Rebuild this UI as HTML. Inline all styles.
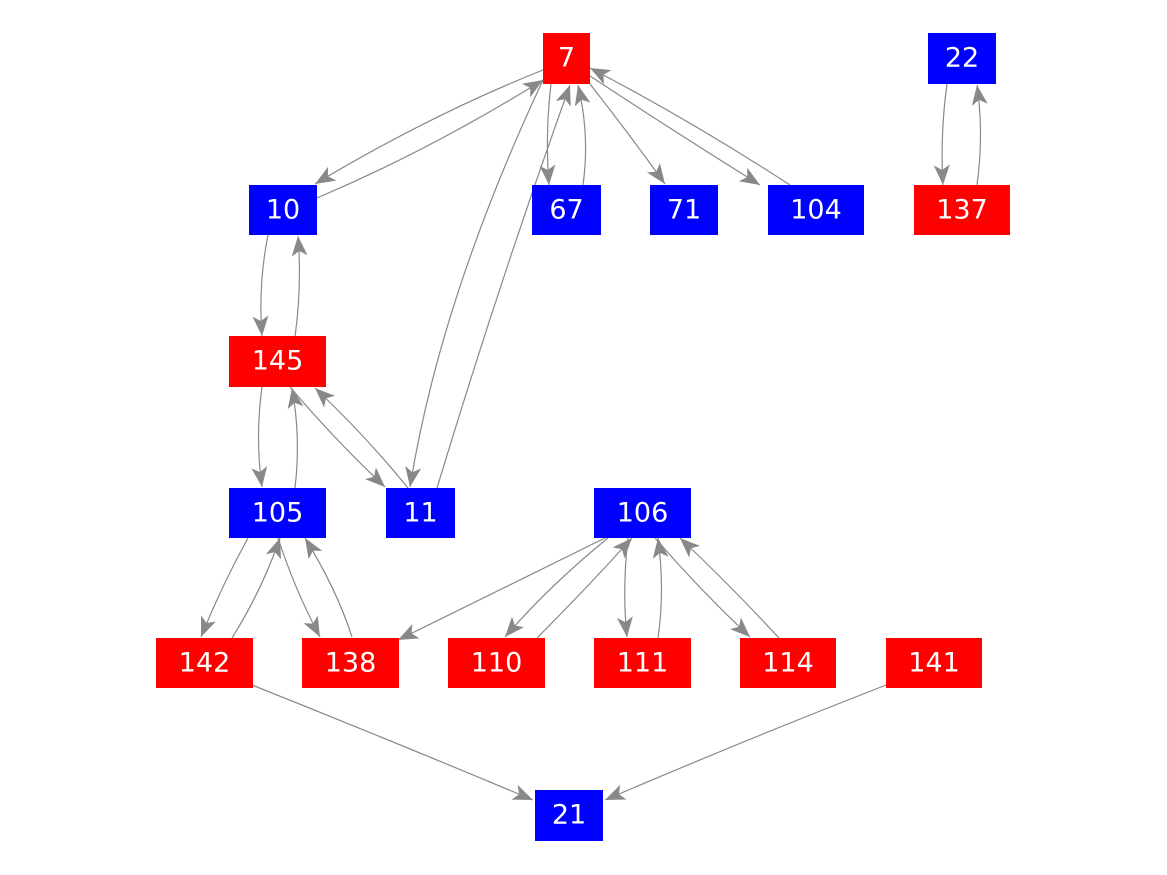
<!DOCTYPE html>
<html><head><meta charset="utf-8"><style>
html,body{margin:0;padding:0;background:#fff;}
svg{display:block;}
text{font-family:"DejaVu Sans","Liberation Sans",sans-serif;font-size:27px;fill:#fff;text-anchor:middle;dominant-baseline:central;}
path.e{fill:none;stroke:#888;stroke-width:1.2;}
</style></head><body>
<svg width="1167" height="875" viewBox="0 0 1167 875">
<defs>
<marker id="a" markerUnits="userSpaceOnUse" markerWidth="24" markerHeight="18" refX="20" refY="8" orient="auto" viewBox="0 0 24 18">
<path d="M0,0 L20,8 L0,16 L5,8 z" fill="#888"/>
</marker>
</defs>
<g marker-end="url(#a)">
<path class="e" d="M543,70 Q430,115 315,184"/>
<path class="e" d="M317,198 Q430,150 543,80"/>
<path class="e" d="M551,84 Q545,135 549,185"/>
<path class="e" d="M583,185 Q590,135 578,85"/>
<path class="e" d="M590,84 Q630,135 665,184"/>
<path class="e" d="M590,76 Q675,132 760,185"/>
<path class="e" d="M790,185 Q690,120 590,68"/>
<path class="e" d="M543,80 Q440,300 410,487"/>
<path class="e" d="M437,488 Q500,280 570,85"/>
<path class="e" d="M947,84 Q940,135 943,185"/>
<path class="e" d="M977,185 Q984,135 977,85"/>
<path class="e" d="M268,235 Q258,285 262,336"/>
<path class="e" d="M295,337 Q302,285 298,236"/>
<path class="e" d="M262,387 Q255,437 262,487"/>
<path class="e" d="M295,488 Q301,437 292,388"/>
<path class="e" d="M290,387 Q335,440 385,487"/>
<path class="e" d="M408,488 Q365,435 315,388"/>
<path class="e" d="M248,538 Q222,585 201,637"/>
<path class="e" d="M232,638 Q262,590 280,538"/>
<path class="e" d="M278,538 Q295,590 320,637"/>
<path class="e" d="M352,637 Q337,590 305,538"/>
<path class="e" d="M605,538 Q500,590 398,640"/>
<path class="e" d="M608,538 Q550,585 505,637"/>
<path class="e" d="M537,638 Q585,590 632,538"/>
<path class="e" d="M628,538 Q622,590 627,637"/>
<path class="e" d="M658,638 Q665,590 658,538"/>
<path class="e" d="M655,538 Q700,590 750,637"/>
<path class="e" d="M779,638 Q730,585 680,538"/>
<path class="e" d="M252,685 Q390,740 533,800"/>
<path class="e" d="M886,685 Q745,740 605,800"/>
</g>
<g>
<rect x="543" y="33" width="47" height="51" fill="#f00"/><text x="566.5" y="58">7</text>
<rect x="928" y="33" width="68" height="51" fill="#00f"/><text x="962" y="58">22</text>
<rect x="249" y="185" width="68" height="50" fill="#00f"/><text x="283" y="210">10</text>
<rect x="532" y="185" width="69" height="50" fill="#00f"/><text x="566.5" y="210">67</text>
<rect x="650" y="185" width="68" height="50" fill="#00f"/><text x="684" y="210">71</text>
<rect x="768" y="185" width="96" height="50" fill="#00f"/><text x="816" y="210">104</text>
<rect x="914" y="185" width="96" height="50" fill="#f00"/><text x="962" y="210">137</text>
<rect x="229" y="336" width="97" height="51" fill="#f00"/><text x="277.5" y="361">145</text>
<rect x="229" y="488" width="97" height="50" fill="#00f"/><text x="277.5" y="513">105</text>
<rect x="386" y="488" width="69" height="50" fill="#00f"/><text x="420.5" y="513">11</text>
<rect x="594" y="488" width="97" height="50" fill="#00f"/><text x="642.5" y="513">106</text>
<rect x="156" y="638" width="97" height="50" fill="#f00"/><text x="204.5" y="663">142</text>
<rect x="302" y="638" width="97" height="50" fill="#f00"/><text x="350.5" y="663">138</text>
<rect x="448" y="638" width="97" height="50" fill="#f00"/><text x="496.5" y="663">110</text>
<rect x="594" y="638" width="97" height="50" fill="#f00"/><text x="642.5" y="663">111</text>
<rect x="740" y="638" width="96" height="50" fill="#f00"/><text x="788" y="663">114</text>
<rect x="886" y="638" width="96" height="50" fill="#f00"/><text x="934" y="663">141</text>
<rect x="535" y="790" width="68" height="51" fill="#00f"/><text x="569" y="815">21</text>
</g>
</svg>
</body></html>
